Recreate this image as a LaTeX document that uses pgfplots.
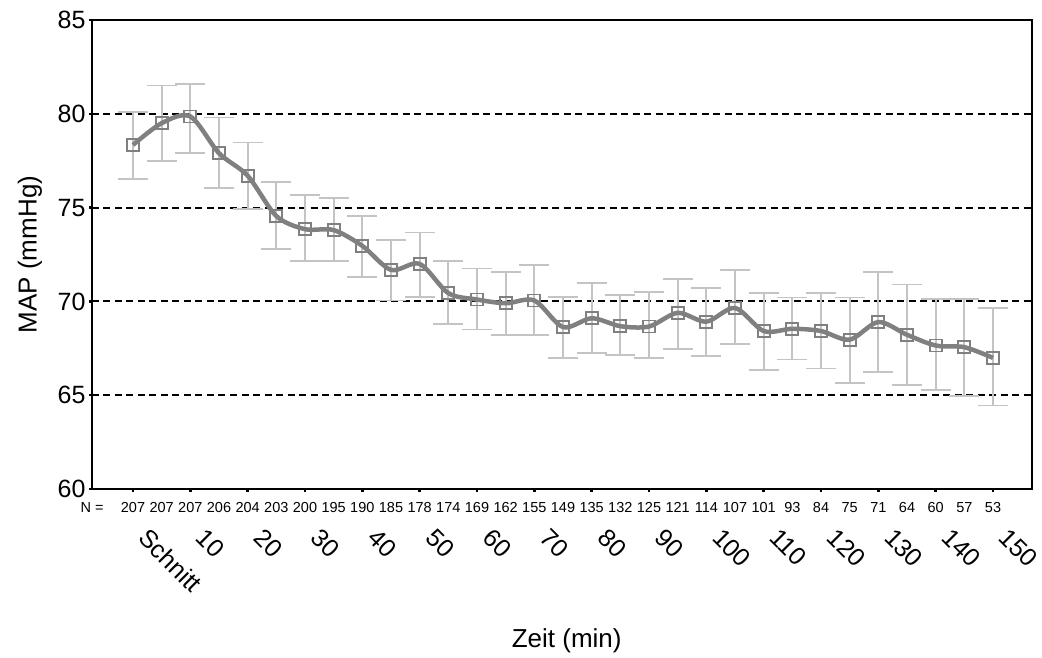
\documentclass[border=0pt]{standalone}
\usepackage{fontspec}
\setmainfont{Liberation Sans}
\usepackage{pgfplots}
\pgfplotsset{compat=1.18}
\usepackage{pgfplotstable}
\definecolor{linegray}{HTML}{808080}
\definecolor{bargray}{HTML}{C4C4C4}

% x = index of the measurement, y = MAP mean, ep/em = upper/lower CI, n = N
\pgfplotstableread{
x  y     ep   em   n
0  78.34 1.75 1.80 207
1  79.50 2.01 2.00 207
2  79.86 1.74 1.96 207
3  77.90 1.90 1.84 206
4  76.70 1.77 1.78 204
5  74.55 1.80 1.75 203
6  73.85 1.82 1.71 200
7  73.80 1.70 1.66 195
8  72.96 1.59 1.66 190
9  71.68 1.60 1.63 185
10 72.00 1.67 1.77 178
11 70.44 1.70 1.64 174
12 70.10 1.65 1.60 169
13 69.90 1.67 1.70 162
14 70.05 1.91 1.85 155
15 68.63 1.60 1.63 149
16 69.10 1.90 1.85 135
17 68.68 1.64 1.52 132
18 68.66 1.84 1.66 125
19 69.39 1.79 1.92 121
20 68.92 1.80 1.85 114
21 69.65 2.01 1.90 107
22 68.42 2.01 2.09 101
23 68.54 1.67 1.64 93
24 68.42 2.01 2.00 84
25 67.96 2.25 2.32 75
26 68.90 2.67 2.67 71
27 68.22 2.68 2.67 64
28 67.65 2.49 2.37 60
29 67.56 2.58 2.59 57
30 66.99 2.66 2.54 53
}\mapdata

\begin{document}
\begin{tikzpicture}[x=1pt,y=1pt]
\useasboundingbox (-92,-169) rectangle (950,489);
\begin{axis}[
    at={(0,0)}, anchor=south west,
    scale only axis, width=940pt, height=469pt,
    xmin=-1.43, xmax=31.36, ymin=60, ymax=85,
    clip=false,
    font=\fontsize{26}{30}\selectfont,
    /pgf/number format/assume math mode=true,
    ytick={60,65,...,85},
    xtick={0,2,...,30},
    xticklabels={Schnitt,10,20,30,40,50,60,70,80,90,100,110,120,130,140,150},
    xticklabel style={xshift=17pt, yshift=-30pt, rotate=-45, anchor=north west,
        font=\fontsize{25}{28}\selectfont},
    yticklabel style={font=\fontsize{25}{28}\selectfont},
    ymajorgrids,
    grid style={black, line width=2pt, dash pattern=on 7pt off 4.5pt},
    axis line style={line width=2pt},
    tick align=outside, xtick pos=bottom, ytick pos=left,
    major tick length=3pt,
    tick style={line width=2.5pt, black},
    xlabel={Zeit (min)},
    ylabel={MAP (mmHg)},
    xlabel style={at={(axis description cs:0.505,-0.324)}, anchor=center},
    ylabel style={at={(axis description cs:-0.066,0.5)}, anchor=center},
]
% confidence intervals
\addplot[draw=none, mark=none, forget plot,
    error bars/.cd, y dir=both, y explicit, error mark=|,
    error bar style={draw=bargray, line width=1.8pt},
    error mark options={draw=bargray, line width=1.8pt, mark size=15pt}]
    table[x=x, y=y, y error plus=ep, y error minus=em] {\mapdata};
% means
\addplot[smooth, color=linegray, line width=4.5pt,
    mark=square, mark size=6pt,
    mark options={draw=linegray, line width=1.8pt, fill=none, solid}]
    table[x=x, y=y] {\mapdata};
% N row
\addplot[draw=none, mark=none,
    nodes near coords, point meta=explicit symbolic,
    every node near coord/.append style={anchor=base, yshift=-24pt,
        font=\fontsize{14.5}{17}\selectfont}]
    table[x=x, y expr=60, meta=n] {\mapdata};
\node[font=\fontsize{14.5}{17}\selectfont, anchor=base] at (rel axis cs:0,0) [yshift=-24pt] {N =};
\end{axis}
\end{tikzpicture}
\end{document}
